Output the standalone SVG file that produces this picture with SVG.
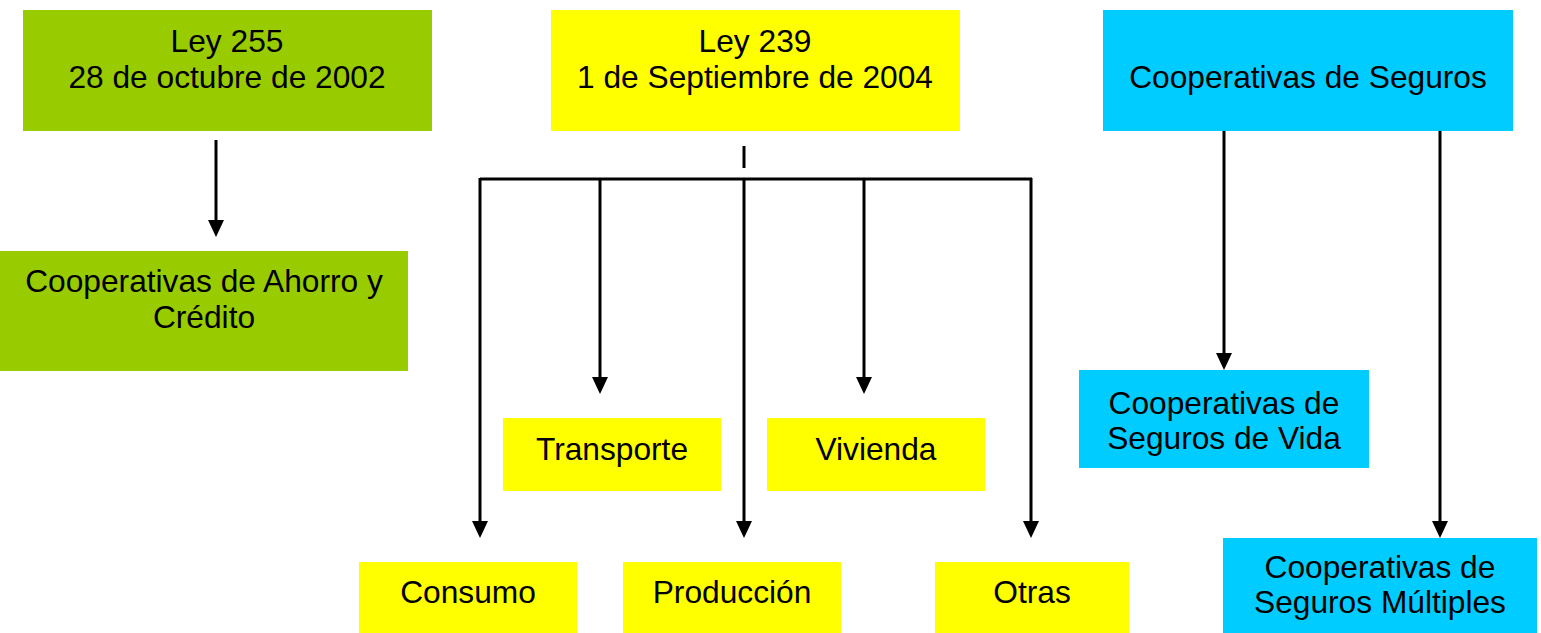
<svg xmlns="http://www.w3.org/2000/svg" width="1541" height="633" viewBox="0 0 1541 633">
<style>
text{font-family:"Liberation Sans",Arial,sans-serif;font-size:31.7px;fill:#000;text-anchor:middle}
.g{fill:#99CC00}.y{fill:#FFFF00}.c{fill:#00CCFF}
.ln{stroke:#000;stroke-width:3;fill:none}
</style>
<defs>
<marker id="ah" markerUnits="userSpaceOnUse" markerWidth="17" markerHeight="16" refX="5" refY="8" orient="auto" viewBox="0 0 17 16">
<path d="M0,0 L17,8 L0,16 Z" fill="#000"/>
</marker>
</defs>
<rect width="1541" height="633" fill="#fff"/>
<g id="connectors">
<line class="ln" x1="216" y1="140" x2="216" y2="225" marker-end="url(#ah)"/>
<line class="ln" x1="744" y1="146" x2="744" y2="168"/>
<line class="ln" x1="480" y1="179" x2="1032" y2="179"/>
<line class="ln" x1="480" y1="178" x2="480" y2="526" marker-end="url(#ah)"/>
<line class="ln" x1="600" y1="178" x2="600" y2="382" marker-end="url(#ah)"/>
<line class="ln" x1="744" y1="178" x2="744" y2="526" marker-end="url(#ah)"/>
<line class="ln" x1="864" y1="178" x2="864" y2="382" marker-end="url(#ah)"/>
<line class="ln" x1="1031" y1="178" x2="1031" y2="526" marker-end="url(#ah)"/>
<line class="ln" x1="1224" y1="131" x2="1224" y2="358" marker-end="url(#ah)"/>
<line class="ln" x1="1440" y1="131" x2="1440" y2="526" marker-end="url(#ah)"/>
</g>
<g id="ley255"><rect class="g" x="23" y="10" width="409" height="121"/><text x="227" y="52">Ley 255</text><text x="227" y="88">28 de octubre de 2002</text></g>
<g id="ahorro"><rect class="g" x="0" y="251" width="408" height="120"/><text x="204" y="292">Cooperativas de Ahorro y</text><text x="204" y="328">Crédito</text></g>
<g id="ley239"><rect class="y" x="551" y="10" width="409" height="121"/><text x="755" y="52">Ley 239</text><text x="755" y="88">1 de Septiembre de 2004</text></g>
<g id="transporte"><rect class="y" x="503" y="418" width="218" height="73"/><text x="612" y="460">Transporte</text></g>
<g id="vivienda"><rect class="y" x="767" y="418" width="218" height="73"/><text x="876" y="460">Vivienda</text></g>
<g id="consumo"><rect class="y" x="359" y="562" width="218" height="71"/><text x="468" y="603">Consumo</text></g>
<g id="produccion"><rect class="y" x="623" y="562" width="218" height="71"/><text x="732" y="603">Producción</text></g>
<g id="otras"><rect class="y" x="935" y="562" width="194" height="71"/><text x="1032" y="603">Otras</text></g>
<g id="seguros"><rect class="c" x="1103" y="10" width="410" height="121"/><text x="1308" y="88">Cooperativas de Seguros</text></g>
<g id="vida"><rect class="c" x="1079" y="370" width="290" height="98"/><text x="1224" y="414">Cooperativas de</text><text x="1224" y="449">Seguros de Vida</text></g>
<g id="multiples"><rect class="c" x="1223" y="538" width="314" height="95"/><text x="1380" y="578">Cooperativas de</text><text x="1380" y="613">Seguros Múltiples</text></g>
</svg>
